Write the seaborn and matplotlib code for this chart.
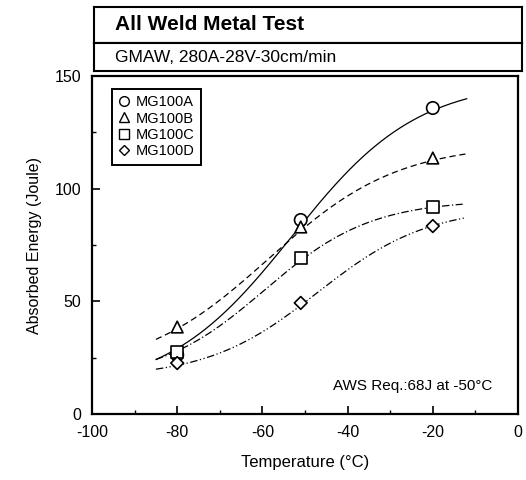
import numpy as np
import pandas as pd
import matplotlib
matplotlib.use("Agg")
import matplotlib.pyplot as plt
import seaborn as sns
from matplotlib.lines import Line2D

# ---- data ----
series = ["MG100A", "MG100B", "MG100C", "MG100D"]
temps = [-80, -51, -20]
energy_A = [26.2, 86.1, 135.8]
energy_B = [38.6, 83.0, 113.6]
energy_C = [27.5, 69.2, 91.9]
energy_D = [22.6, 49.3, 83.4]

# tanh transition-curve parameters (fitted by eye to the drawn curves)
lower_shelf = [10, 18, 15, 16]
upper_shelf = [148, 120, 95, 92]
t_mid = [-53, -58.5, -59.5, -47]
t_width = [29.5, 30.3, 25.0, 26.0]
curve_start = [-85, -85, -85, -85]
curve_end = [-12, -11.5, -13, -12.5]

title = "All Weld Metal Test"
subtitle = "GMAW, 280A-28V-30cm/min"
note = "AWS Req.:68J at -50°C"
x_ticks = [-100, -80, -60, -40, -20, 0]
y_ticks = [0, 50, 100, 150]

# ---- build tables ----
energies = [energy_A, energy_B, energy_C, energy_D]
pts = pd.DataFrame({
    "T": temps * len(series),
    "E": sum(energies, []),
    "series": [s for s in series for _ in temps],
})

rows = []
for i, s in enumerate(series):
    t = np.linspace(curve_start[i], curve_end[i], 200)
    e = lower_shelf[i] + (upper_shelf[i] - lower_shelf[i]) / 2 * (1 + np.tanh((t - t_mid[i]) / t_width[i]))
    rows.append(pd.DataFrame({"T": t, "E": e, "series": s}))
curves = pd.concat(rows, ignore_index=True)

# ---- style ----
sns.set_theme(style="ticks")
plt.rcParams["font.family"] = ["Liberation Sans", "DejaVu Sans"]
plt.rcParams["axes.linewidth"] = 1.6
plt.rcParams["axes.unicode_minus"] = False
for k in ["text.color", "axes.labelcolor", "xtick.color", "ytick.color", "axes.edgecolor"]:
    plt.rcParams[k] = "black"

dash_map = {"MG100A": "", "MG100B": (5, 3), "MG100C": (6, 2, 1, 2), "MG100D": (6, 2, 1, 2, 1, 2)}
marker_map = {"MG100A": "o", "MG100B": "^", "MG100C": "s", "MG100D": "D"}
size_map = {"MG100A": 80, "MG100B": 70, "MG100C": 75, "MG100D": 42}

W, H = 526, 480
fig = plt.figure(figsize=(W / 100, H / 100), dpi=100)
ax = fig.add_axes([92 / W, 1 - 414 / H, 426 / W, 338 / H])

sns.lineplot(data=curves, x="T", y="E", style="series", dashes=dash_map,
             color="black", lw=0.9, legend=False, estimator=None, sort=False, ax=ax)
sns.scatterplot(data=pts, x="T", y="E", style="series", markers=marker_map,
                size="series", sizes=size_map,
                color="white", edgecolor="black", linewidth=1.2,
                legend=False, zorder=3, ax=ax)

ax.set_xlim(-100, 0)
ax.set_ylim(0, 150)
ax.set_xticks(x_ticks)
ax.set_yticks(y_ticks)
ax.set_xticks(np.arange(-90, 0, 20), minor=True)
ax.set_yticks([25, 75, 125], minor=True)
ax.tick_params(which="major", direction="in", length=6, width=1.2, labelsize=11.5, pad=8, colors="black")
ax.tick_params(which="minor", direction="in", length=3, width=1.0, colors="black")
ax.tick_params(top=False, right=False)
for sp in ax.spines.values():
    sp.set_visible(True)
    sp.set_color("black")
ax.set_xlabel("Temperature (°C)", fontsize=12, labelpad=11, color="black")
ax.set_ylabel("Absorbed Energy (Joule)", fontsize=11.5, labelpad=9, color="black")

handles = [Line2D([], [], marker=marker_map[s], ls="none", mfc="white", mec="black",
                  ms=7 if marker_map[s] != "D" else 5.5, mew=1.0) for s in series]
leg = ax.legend(handles, series, loc="upper left", bbox_to_anchor=(0.047, 0.962),
                frameon=True, fancybox=False, framealpha=1, edgecolor="black",
                fontsize=10.5, handlelength=0.8, handletextpad=0.35, labelspacing=0.15,
                borderpad=0.45, borderaxespad=0, labelcolor="black")
leg.get_frame().set_linewidth(1.4)

ax.text(0.941, 0.083, note, transform=ax.transAxes, ha="right", va="center", fontsize=11, color="black")

# header boxes
h1 = fig.add_axes([94 / W, 1 - 43 / H, 428 / W, 36 / H])
h2 = fig.add_axes([94 / W, 1 - 71 / H, 428 / W, 28 / H])
for h, txt, fs, fw in [(h1, title, 15, "bold"), (h2, subtitle, 12.5, "normal")]:
    h.set_xticks([]); h.set_yticks([])
    for sp in h.spines.values():
        sp.set_visible(True); sp.set_color("black"); sp.set_linewidth(1.5)
    h.text(0.05, 0.5, txt, ha="left", va="center", fontsize=fs, fontweight=fw,
           color="black", transform=h.transAxes)

fig.savefig("out.png", dpi=100)
